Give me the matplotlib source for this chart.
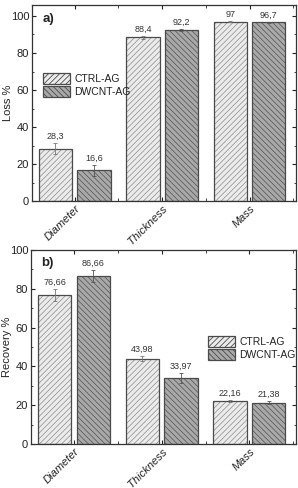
import matplotlib.pyplot as plt
import numpy as np
from matplotlib.ticker import MultipleLocator

plt.rcParams["hatch.linewidth"] = 0.6
plt.rcParams["font.family"] = ["Liberation Sans", "DejaVu Sans"]

categories = ["Diameter", "Thickness", "Mass"]
series = ["CTRL-AG", "DWCNT-AG"]

loss_ctrl = [28.3, 88.4, 97.0]
loss_dwcnt = [16.6, 92.2, 96.7]
loss_ctrl_err = [3.0, 0.8, 0.3]
loss_dwcnt_err = [3.0, 0.5, 0.3]
loss_ctrl_lbl = ["28,3", "88,4", "97"]
loss_dwcnt_lbl = ["16,6", "92,2", "96,7"]

rec_ctrl = [76.66, 43.98, 22.16]
rec_dwcnt = [86.66, 33.97, 21.38]
rec_ctrl_err = [3.0, 1.3, 0.6]
rec_dwcnt_err = [3.0, 2.5, 0.6]
rec_ctrl_lbl = ["76,66", "43,98", "22,16"]
rec_dwcnt_lbl = ["86,66", "33,97", "21,38"]

CTRL_FACE = "#ececec"
DW_FACE = "#a9a9a9"
EDGE = "#4a4a4a"
HATCH_CTRL = "#9a9a9a"
HATCH_DW = "#5e5e5e"
TXT = "#222222"


def draw_panel(ax, ctrl, dw, ctrl_err, dw_err, ctrl_lbl, dw_lbl, ylabel, ylim,
               tag, legend_anchor):
    x = np.arange(len(categories))
    w = 0.38
    off = 0.22
    b1 = ax.bar(x - off, ctrl, w, color=CTRL_FACE, edgecolor=HATCH_CTRL,
                hatch="//////", linewidth=0, label=series[0], zorder=2)
    b2 = ax.bar(x + off, dw, w, color=DW_FACE, edgecolor=HATCH_DW,
                hatch="\\\\\\\\\\\\", linewidth=0, label=series[1], zorder=2)
    # outlines drawn on top of the hatch
    ax.bar(x - off, ctrl, w, fill=False, edgecolor=EDGE, linewidth=0.9, zorder=3)
    ax.bar(x + off, dw, w, fill=False, edgecolor=EDGE, linewidth=0.9, zorder=3)
    ax.errorbar(x - off, ctrl, yerr=ctrl_err, fmt="none", ecolor="#777777",
                elinewidth=0.6, capsize=1.5, capthick=0.6, zorder=4)
    ax.errorbar(x + off, dw, yerr=dw_err, fmt="none", ecolor="#555555",
                elinewidth=0.6, capsize=1.5, capthick=0.6, zorder=4)
    for xi, v, e, s in zip(x - off, ctrl, ctrl_err, ctrl_lbl):
        ax.text(xi, v + e + 1.2, s, ha="center", va="bottom", fontsize=6.5,
                color="#333333")
    for xi, v, e, s in zip(x + off, dw, dw_err, dw_lbl):
        ax.text(xi, v + e + 1.2, s, ha="center", va="bottom", fontsize=6.5,
                color="#333333")

    ax.set_xlim(-0.49, 2.53)
    ax.set_ylim(*ylim)
    ax.set_xticks(x)
    ax.set_xticklabels(categories, rotation=45, ha="right", rotation_mode="anchor",
                       fontstyle="italic", fontsize=8.5)
    ax.xaxis.set_minor_locator(MultipleLocator(0.5))
    ax.yaxis.set_major_locator(MultipleLocator(20))
    ax.yaxis.set_minor_locator(MultipleLocator(10))
    ax.tick_params(which="both", direction="in", top=True, right=True,
                   labelsize=8, colors=TXT, pad=2)
    ax.tick_params(which="major", length=3, width=0.8)
    ax.tick_params(which="minor", length=1.5, width=0.6)
    ax.tick_params(axis="x", which="minor", length=2)
    ax.tick_params(axis="x", which="major", pad=1.5)
    for sp in ax.spines.values():
        sp.set_linewidth(0.9)
        sp.set_color("#333333")
    ax.set_ylabel(ylabel, fontsize=8, color=TXT)
    ax.yaxis.set_label_coords(-0.07, 0.5)
    ax.text(0.04, 0.93, tag, transform=ax.transAxes, fontsize=9.5,
            fontweight="bold", ha="left", va="center", color=TXT)
    leg = ax.legend(handles=[b1, b2], loc="upper left",
                    bbox_to_anchor=legend_anchor, frameon=False, fontsize=7.5,
                    handlelength=2.6, handleheight=1.3, handletextpad=0.4,
                    labelspacing=0.15, borderaxespad=0)
    for t in leg.get_texts():
        t.set_color(TXT)
    for h in leg.legend_handles:
        h.set_linewidth(0.9)
        h.set_edgecolor(EDGE)
    return ax


fig = plt.figure(figsize=(2.98, 4.88), dpi=100)
ax1 = fig.add_axes([0.107, 0.588, 0.886, 0.402])
ax2 = fig.add_axes([0.104, 0.090, 0.889, 0.398])

draw_panel(ax1, loss_ctrl, loss_dwcnt, loss_ctrl_err, loss_dwcnt_err,
           loss_ctrl_lbl, loss_dwcnt_lbl, "Loss %", (0, 106), "a)", (0.027, 0.675))
draw_panel(ax2, rec_ctrl, rec_dwcnt, rec_ctrl_err, rec_dwcnt_err,
           rec_ctrl_lbl, rec_dwcnt_lbl, "Recovery %", (0, 100), "b)", (0.653, 0.58))

fig.savefig("out.png", dpi=100)
